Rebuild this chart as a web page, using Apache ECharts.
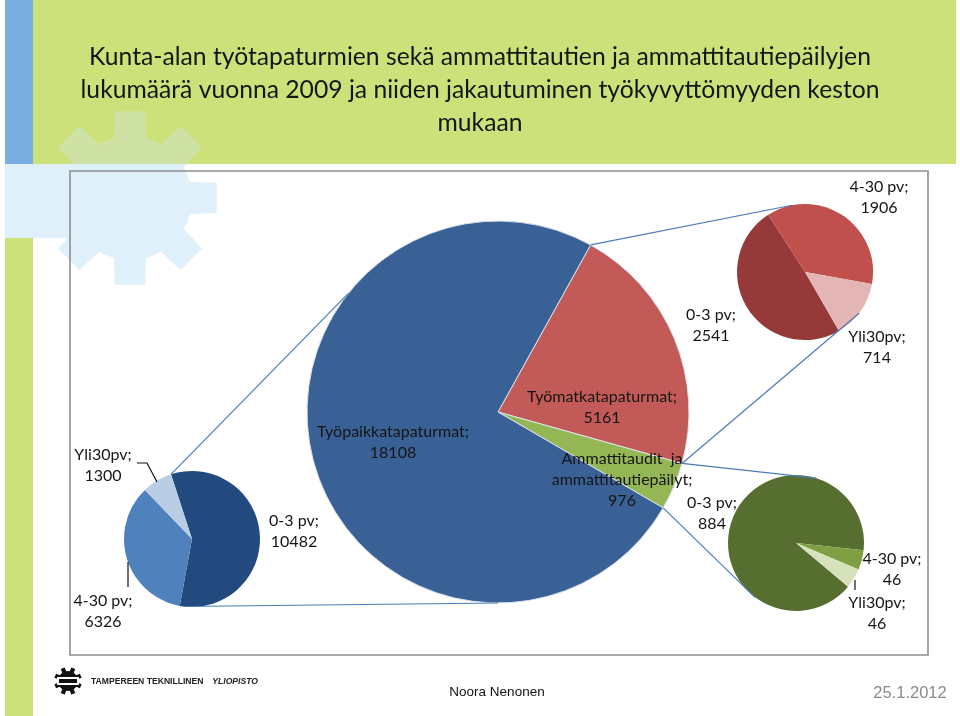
<!DOCTYPE html>
<html>
<head>
<meta charset="utf-8">
<script src="https://cdn.jsdelivr.net/npm/echarts@6/dist/echarts.min.js"></script>
<style>
  html, body { margin: 0; padding: 0; background: #fff; }
  #chart { width: 960px; height: 716px; }
</style>
</head>
<body>
<div id="chart"></div>
<script>
const titleLines = [
  'Kunta-alan työtapaturmien sekä ammattitautien ja ammattitautiepäilyjen',
  'lukumäärä vuonna 2009 ja niiden jakautuminen työkyvyttömyyden keston',
  'mukaan'
];

// main pie: accident types
const mainCategories = ['Työmatkatapaturmat', 'Ammattitaudit  ja\nammattitautiepäilyt', 'Työpaikkatapaturmat'];
const mainValues = [5161, 976, 18108];

// small pies: split by length of incapacity
const durationCategories = ['0-3 pv', '4-30 pv', 'Yli30pv'];
const workplaceValues = [10482, 6326, 1300];
const commuteValues = [2541, 1906, 714];
const diseaseValues = [884, 46, 46];

const footerAuthor = 'Noora Nenonen';
const footerDate = '25.1.2012';
const footerSchool = ['TAMPEREEN TEKNILLINEN', 'YLIOPISTO'];

// geometry of the four pies (px)
const mainPie = { cx: 498, cy: 412, r: 191, start: 61 };
const workPie = { cx: 192, cy: 539, r: 68, start: 108 };
const commutePie = { cx: 805, cy: 272, r: 68, start: 300 };
const diseasePie = { cx: 796, cy: 543, r: 68, start: 320 };

const mainColors = ['#c25b57', '#94b655', '#3a6196'];
const workColors = ['#224a7e', '#4f81bd', '#b9cde5'];
const commuteColors = ['#953a38', '#c0504d', '#e3b5b4'];
const diseaseColors = ['#566e2f', '#7fa042', '#d5e2bb'];

const chart = echarts.init(document.getElementById('chart'));

const polar = (p, deg, r) => {
  const t = deg * Math.PI / 180;
  const rr = r === undefined ? p.r : r;
  return [p.cx + rr * Math.cos(t), p.cy - rr * Math.sin(t)];
};

// boundary angles of the main pie, from its data
const mainTotal = mainValues.reduce((a, b) => a + b, 0);
const mainBounds = [mainPie.start];
mainValues.forEach((v) => mainBounds.push(mainBounds[mainBounds.length - 1] - 360 * v / mainTotal));

const makePie = (p, names, values, colors, border) => ({
  type: 'pie',
  center: [p.cx, p.cy],
  radius: p.r,
  startAngle: p.start,
  clockwise: true,
  silent: true,
  animation: false,
  label: { show: false },
  labelLine: { show: false },
  itemStyle: border
    ? { borderColor: 'rgba(222,230,242,0.95)', borderWidth: 1 }
    : { borderWidth: 0 },
  data: values.map((v, i) => ({ value: v, name: names[i], itemStyle: { color: colors[i] } }))
});

function gearPoints(cx, cy, rIn, rOut, teeth, rot, hIn, hOut) {
  const pts = [];
  const step = 360 / teeth;
  for (let k = 0; k < teeth; k++) {
    const a = rot + k * step;
    [[rIn, a - hIn], [rOut, a - hOut], [rOut, a + hOut], [rIn, a + hIn], [rIn, a + step / 2]].forEach(([r, d]) => {
      const t = d * Math.PI / 180;
      pts.push([cx + r * Math.cos(t), cy - r * Math.sin(t)]);
    });
  }
  return pts;
}

function clipAbove(pts, yMax) {
  const out = [];
  for (let i = 0; i < pts.length; i++) {
    const p = pts[i];
    const q = pts[(i + 1) % pts.length];
    const pin = p[1] <= yMax;
    const qin = q[1] <= yMax;
    if (pin) out.push(p);
    if (pin !== qin) {
      const t = (yMax - p[1]) / (q[1] - p[1]);
      out.push([p[0] + t * (q[0] - p[0]), yMax]);
    }
  }
  return out;
}

const bigGear = gearPoints(130, 198, 62, 88, 8, 0, 15, 10);
const logoGear = gearPoints(68, 681, 10, 14, 8, 22.5, 12, 9);

const label = (text, x, y, size) => ({
  type: 'text',
  z: 20,
  style: {
    text: text,
    x: x,
    y: y,
    align: 'center',
    verticalAlign: 'middle',
    fontFamily: 'Lato, "Noto Sans", sans-serif',
    fontSize: size || 16,
    lineHeight: 21,
    fill: '#151515'
  }
});

const pieLabel = (name, value, x, y) => label(name + ';\n' + value, x, y);

const line = (pts, color, w) => ({
  type: 'polyline',
  z: 5,
  shape: { points: pts },
  style: { stroke: color || '#4a7cb8', lineWidth: w || 1.2, fill: null }
});

// connectors between the main pie and the split pies
const connectors = [
  [polar(mainPie, 141.6), polar(workPie, 108)],
  [polar(mainPie, -90), polar(workPie, -97)],
  [polar(mainPie, mainBounds[0]), polar(commutePie, 101)],
  [polar(mainPie, mainBounds[1]), polar(commutePie, -37)],
  [polar(mainPie, mainBounds[1]), polar(diseasePie, 72.6)],
  [polar(mainPie, mainBounds[2]), polar(diseasePie, -127)]
];

const graphics = [
  // background bands
  { type: 'rect', z: 0, shape: { x: 5, y: 164, width: 125, height: 74 }, style: { fill: '#e0f0fb' } },
  { type: 'polygon', z: 0, shape: { points: bigGear }, style: { fill: '#e0f0fb' } },
  { type: 'rect', z: 1, shape: { x: 33, y: 0, width: 923, height: 164 }, style: { fill: '#cde17b' } },
  { type: 'polygon', z: 1, shape: { points: clipAbove(bigGear, 164) }, style: { fill: '#cfe2a6' } },
  { type: 'rect', z: 1, shape: { x: 5, y: 0, width: 28, height: 164 }, style: { fill: '#78aee0' } },
  { type: 'rect', z: 1, shape: { x: 5, y: 238, width: 28, height: 478 }, style: { fill: '#cde17b' } },
  // chart frame
  { type: 'rect', z: 1, shape: { x: 70, y: 171, width: 858, height: 484 }, style: { fill: 'none', stroke: '#8e8e8e', lineWidth: 1.6 } },
  // title
  {
    type: 'text', z: 20,
    style: {
      text: titleLines.join('\n'), x: 480, y: 90, align: 'center', verticalAlign: 'middle',
      fontFamily: 'Lato, "Noto Sans", sans-serif', fontSize: 24.7, lineHeight: 33, fill: '#161616'
    }
  },
  // footer
  { type: 'polygon', z: 20, shape: { points: logoGear }, style: { fill: '#111' } },
  { type: 'rect', z: 21, shape: { x: 57, y: 677, width: 22, height: 8 }, style: { fill: '#fff' } },
  { type: 'rect', z: 22, shape: { x: 59, y: 679, width: 18, height: 4 }, style: { fill: '#111' } },
  {
    type: 'text', z: 20,
    style: { text: footerSchool[0], x: 91, y: 682, verticalAlign: 'middle', fontFamily: '"Liberation Sans", Arial, sans-serif', fontSize: 8.6, fontWeight: 'bold', fill: '#222' }
  },
  {
    type: 'text', z: 20,
    style: { text: footerSchool[1], x: 258, y: 682, align: 'right', verticalAlign: 'middle', fontFamily: '"Liberation Sans", Arial, sans-serif', fontSize: 8.6, fontWeight: 'bold', fontStyle: 'italic', fill: '#222' }
  },
  {
    type: 'text', z: 20,
    style: { text: footerAuthor, x: 497, y: 692, align: 'center', verticalAlign: 'middle', fontFamily: '"Liberation Sans Narrow", "Liberation Sans", Arial, sans-serif', fontSize: 13.5, fill: '#111' }
  },
  {
    type: 'text', z: 20,
    style: { text: footerDate, x: 910, y: 693, align: 'center', verticalAlign: 'middle', fontFamily: '"Liberation Sans Narrow", "Liberation Sans", Arial, sans-serif', fontSize: 16.5, fill: '#8a8a8a' }
  }
];

connectors.forEach((c) => graphics.push(line(c)));

// leader lines
graphics.push(line([[137, 463], [147, 463], [157, 482]], '#111', 1.2));
graphics.push(line([[128, 562], [128, 587]], '#111', 1.2));
graphics.push(line([[855, 580], [855, 590]], '#111', 1.2));

// data labels
graphics.push(pieLabel(mainCategories[2], mainValues[2], 393, 442));
graphics.push(pieLabel(mainCategories[0], mainValues[0], 602, 407));
graphics.push(pieLabel(mainCategories[1], mainValues[1], 622, 480));

graphics.push(pieLabel(durationCategories[0], workplaceValues[0], 294, 531));
graphics.push(pieLabel(durationCategories[1], workplaceValues[1], 103, 611));
graphics.push(pieLabel(durationCategories[2], workplaceValues[2], 103, 465));

graphics.push(pieLabel(durationCategories[0], commuteValues[0], 711, 325));
graphics.push(pieLabel(durationCategories[1], commuteValues[1], 879, 197));
graphics.push(pieLabel(durationCategories[2], commuteValues[2], 877, 347));

graphics.push(pieLabel(durationCategories[0], diseaseValues[0], 712, 513));
graphics.push(pieLabel(durationCategories[1], diseaseValues[1], 892, 569));
graphics.push(pieLabel(durationCategories[2], diseaseValues[2], 877, 613));

chart.setOption({
  animation: false,
  backgroundColor: '#ffffff',
  graphic: graphics,
  series: [
    makePie(mainPie, mainCategories, mainValues, mainColors, true),
    makePie(workPie, durationCategories, workplaceValues, workColors, false),
    makePie(commutePie, durationCategories, commuteValues, commuteColors, false),
    makePie(diseasePie, durationCategories, diseaseValues, diseaseColors, false)
  ]
});
</script>
</body>
</html>
